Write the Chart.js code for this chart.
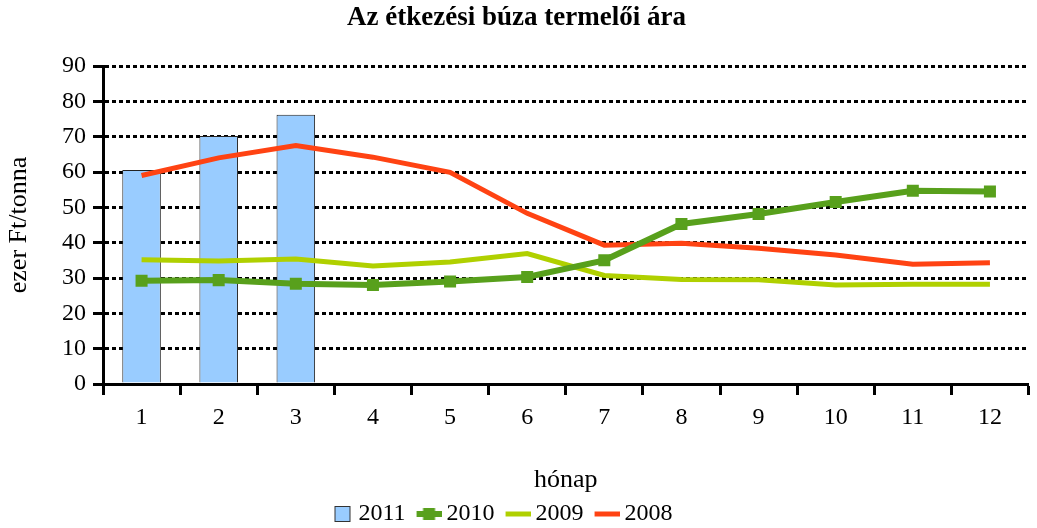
<!DOCTYPE html>
<html>
<head>
<meta charset="utf-8">
<title>Az étkezési búza termelői ára</title>
<script src="https://cdn.jsdelivr.net/npm/chart.js@4.4.0/dist/chart.umd.min.js"></script>
<style>
html, body { margin: 0; padding: 0; background: #fff; overflow: hidden; }
</style>
</head>
<body>
<canvas id="priceChart" width="1037" height="528"></canvas>
<script>
// hónapok
const months = ['1', '2', '3', '4', '5', '6', '7', '8', '9', '10', '11', '12'];
const yTicks = [0, 10, 20, 30, 40, 50, 60, 70, 80, 90];

// ezer Ft/tonna
const values2011 = [60.6, 70.2, 76.2];
const values2010 = [29.2, 29.4, 28.4, 28.0, 29.0, 30.3, 35.0, 45.3, 48.1, 51.5, 54.7, 54.5];
const values2009 = [35.2, 34.8, 35.4, 33.4, 34.5, 36.9, 30.7, 29.6, 29.5, 28.0, 28.2, 28.2];
const values2008 = [59.0, 64.0, 67.5, 64.2, 59.9, 48.3, 39.3, 39.8, 38.4, 36.5, 33.9, 34.3];

const colBar = '#99ccff';
const col2010 = '#58a01c';
const col2009 = '#b0d000';
const col2008 = '#ff4313';

// legend symbols drawn on small canvases (shifted right, towards the text)
function legendSymbol(kind, color) {
    const s = 4.5;
    const c = document.createElement('canvas');
    c.width = 25 + 2 * s;
    c.height = 18;
    const g = c.getContext('2d');
    const x0 = 2 * s;
    if (kind === 'box') {
        g.fillStyle = color;
        g.fillRect(x0 + 6.5, 1.5, 15, 15);
        g.strokeStyle = '#333';
        g.lineWidth = 1;
        g.strokeRect(x0 + 6.5, 1.5, 15, 15);
    } else {
        g.strokeStyle = color;
        g.lineWidth = kind === 'marker' ? 6 : 5;
        g.beginPath();
        g.moveTo(x0, 9);
        g.lineTo(x0 + 25, 9);
        g.stroke();
        if (kind === 'marker') {
            g.fillStyle = color;
            g.fillRect(x0 + 6.5, 3, 12, 12);
        }
    }
    return c;
}

// moves the legend a bit to the left, like in the original
const legendShift = {
    id: 'legendShift',
    afterLayout: function(chart) {
        chart.legend.left -= 17;
        chart.legend.right -= 17;
    }
};

Chart.defaults.font.family = "'Liberation Serif', 'Times New Roman', serif";
Chart.defaults.color = '#000';

const ctx = document.getElementById('priceChart').getContext('2d');
const priceChart = new Chart(ctx, {
    type: 'bar',
    data: {
        labels: months,
        datasets: [{
            type: 'bar',
            label: '2011',
            data: values2011,
            backgroundColor: colBar,
            borderColor: '#222',
            borderWidth: 1,
            barPercentage: 0.5,
            categoryPercentage: 1,
            order: 10,
            symbol: legendSymbol('box', colBar)
        }, {
            type: 'line',
            label: '2010',
            data: values2010,
            borderColor: col2010,
            backgroundColor: col2010,
            borderWidth: 6,
            pointStyle: 'rect',
            pointRadius: 8.5,
            pointBorderWidth: 0,
            tension: 0,
            symbol: legendSymbol('marker', col2010)
        }, {
            type: 'line',
            label: '2009',
            data: values2009,
            borderColor: col2009,
            backgroundColor: col2009,
            borderWidth: 5,
            pointRadius: 0,
            tension: 0,
            symbol: legendSymbol('line', col2009)
        }, {
            type: 'line',
            label: '2008',
            data: values2008,
            borderColor: col2008,
            backgroundColor: col2008,
            borderWidth: 5,
            pointRadius: 0,
            tension: 0,
            symbol: legendSymbol('line', col2008)
        }]
    },
    options: {
        responsive: false,
        animation: false,
        devicePixelRatio: 1,
        layout: {
            padding: { left: 0, right: 4, top: 0, bottom: -8 }
        },
        plugins: {
            title: {
                display: true,
                text: 'Az étkezési búza termelői ára',
                font: { size: 27, weight: 'bold' },
                color: '#000',
                padding: { top: 2, bottom: 31.6 }
            },
            legend: {
                position: 'bottom',
                labels: {
                    usePointStyle: true,
                    pointStyleWidth: 20,
                    padding: 9,
                    font: { size: 24 },
                    generateLabels: function(chart) {
                        return chart.data.datasets.map(function(ds, i) {
                            return {
                                text: ds.label,
                                pointStyle: ds.symbol,
                                fillStyle: ds.backgroundColor,
                                strokeStyle: ds.borderColor,
                                lineWidth: 0,
                                hidden: false,
                                datasetIndex: i
                            };
                        });
                    }
                }
            },
            tooltip: { enabled: false }
        },
        scales: {
            x: {
                offset: true,
                grid: {
                    offset: true,
                    drawOnChartArea: false,
                    drawTicks: true,
                    tickLength: 11,
                    tickWidth: 3,
                    tickColor: '#000'
                },
                border: { color: '#000', width: 3 },
                ticks: { font: { size: 24 }, padding: 8, maxRotation: 0 },
                title: {
                    display: true,
                    text: 'hónap',
                    font: { size: 26, lineHeight: 1.0 },
                    padding: { top: 0, bottom: 0 }
                },
                afterFit: function(scale) { scale.height = 109; }
            },
            y: {
                min: 0,
                max: 90,
                afterBuildTicks: function(scale) {
                    scale.ticks = yTicks.map(function(v) { return { value: v }; });
                },
                grid: {
                    color: '#000',
                    lineWidth: 3,
                    drawTicks: true,
                    tickLength: 10,
                    tickWidth: 3,
                    tickColor: '#000'
                },
                border: { color: '#000', width: 3, dash: [4, 3] },
                ticks: { font: { size: 24 }, padding: 7 },
                title: {
                    display: true,
                    text: 'ezer Ft/tonna',
                    font: { size: 26 },
                    padding: { top: 4, bottom: 0 }
                },
                afterFit: function(scale) { scale.width = 103; }
            }
        }
    },
    plugins: [legendShift]
});
</script>
</body>
</html>
